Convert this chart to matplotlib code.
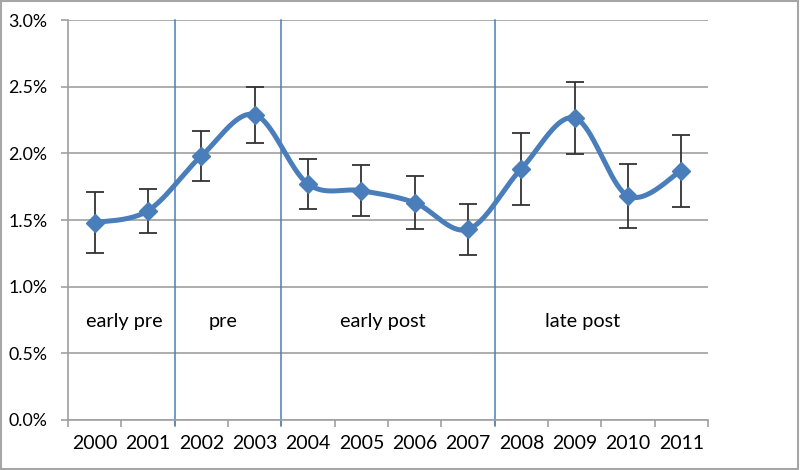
import numpy as np
import matplotlib
matplotlib.use("Agg")
import matplotlib.pyplot as plt
from matplotlib.patches import Rectangle
from matplotlib.ticker import FuncFormatter, FixedLocator
import matplotlib.transforms as mtransforms

years = ["2000", "2001", "2002", "2003", "2004", "2005", "2006",
         "2007", "2008", "2009", "2010", "2011"]
values = [1.48, 1.57, 1.98, 2.29, 1.77, 1.72, 1.63, 1.43, 1.885, 2.265, 1.68, 1.87]
errors = [0.23, 0.165, 0.19, 0.21, 0.19, 0.19, 0.20, 0.19, 0.27, 0.27, 0.24, 0.27]
period_labels = ["early pre", "pre", "early post", "late post"]
period_label_x = [0.55, 2.4, 5.41, 9.14]
period_breaks = [1.5, 3.5, 7.5]

plt.rcParams['font.family'] = ['Lato', 'DejaVu Sans']

fig = plt.figure(figsize=(8, 4.7), dpi=100)
ax = fig.add_axes([68/800, 50/470, 640/800, 400/470])

x = np.arange(len(values))
y = np.array(values)

# Excel-like smoothed curve (Catmull-Rom / Bezier)
def smooth(xs, ys, n=40):
    P = np.column_stack([xs, ys]).astype(float)
    Pext = np.vstack([P[0], P, P[-1]])
    out = []
    for i in range(len(P) - 1):
        p0, p1, p2, p3 = Pext[i], Pext[i+1], Pext[i+2], Pext[i+3]
        b1 = p1 + (p2 - p0) / 6.0
        b2 = p2 - (p3 - p1) / 6.0
        t = np.linspace(0, 1, n)[:, None]
        seg = ((1-t)**3)*p1 + 3*((1-t)**2)*t*b1 + 3*(1-t)*t**2*b2 + t**3*p2
        out.append(seg if i == 0 else seg[1:])
    c = np.vstack(out)
    return c[:, 0], c[:, 1]

sx, sy = smooth(x, y)
blue = '#4A7EBB'
ax.plot(sx, sy, color=blue, lw=3.6, solid_capstyle='round', zorder=3)
ax.errorbar(x, y, yerr=errors, fmt='none', ecolor='#333333', elinewidth=1.3,
            capsize=6.5, capthick=1.3, zorder=4)
ax.plot(x, y, linestyle='none', marker='D', markersize=9, color=blue, zorder=5)

# period separators
trans = mtransforms.blended_transform_factory(ax.transData, ax.transAxes)
for b in period_breaks:
    ax.plot([b, b], [-0.013, 1.0], color=blue, lw=1.1, transform=trans,
            clip_on=False, zorder=2)

for lab, lx in zip(period_labels, period_label_x):
    ax.text(lx, 0.735, lab, ha='center', va='center', fontsize=14.3, color='black')

ax.set_xlim(-0.5, 11.5)
ax.set_ylim(0, 3.0)
ax.set_yticks(np.arange(0, 3.01, 0.5))
ax.yaxis.set_major_formatter(FuncFormatter(lambda v, p: f"{v:.1f}%"))
ax.grid(axis='y', color='#A0A0A0', lw=1.2)
ax.set_axisbelow(True)

ax.xaxis.set_major_locator(FixedLocator(np.arange(-0.5, 11.6, 1.0)))
ax.xaxis.set_minor_locator(FixedLocator(x))
ax.xaxis.set_major_formatter(FuncFormatter(lambda v, p: ""))
ax.set_xticklabels(years, minor=True)
ax.tick_params(axis='x', which='major', length=5, color='#A0A0A0', width=1.2)
ax.tick_params(axis='x', which='minor', length=0, pad=11, labelsize=14)
ax.tick_params(axis='y', length=5, color='#A0A0A0', width=1.2, pad=10, labelsize=12.8)

for s in ['top', 'right']:
    ax.spines[s].set_visible(False)
for s in ['left', 'bottom']:
    ax.spines[s].set_color('#A0A0A0')
    ax.spines[s].set_linewidth(1.2)

fig.patches.append(Rectangle((0.001, 0.002), 0.997, 0.995, transform=fig.transFigure,
                             fill=False, edgecolor='#A6A6A6', lw=1.5))

fig.savefig('out.png', dpi=100)
